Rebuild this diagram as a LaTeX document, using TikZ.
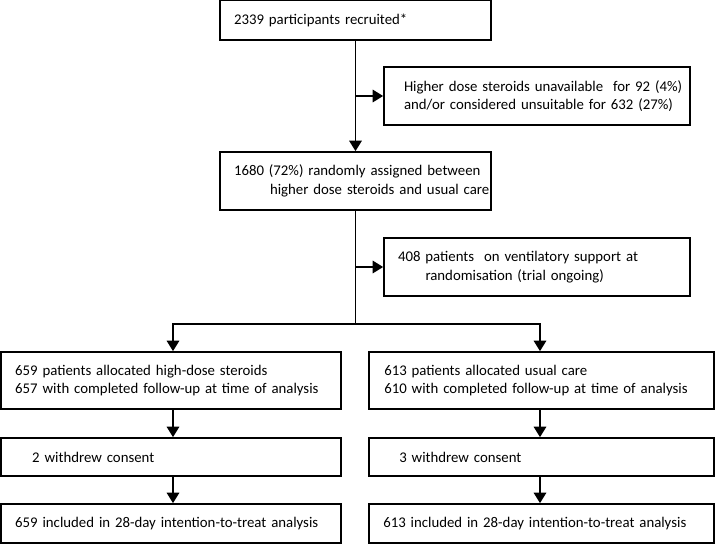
\documentclass[tikz,border=0pt]{standalone}
\usepackage{fontspec}
\setmainfont{Carlito}
\usetikzlibrary{arrows.meta}
\begin{document}
\begin{tikzpicture}[x=1pt,y=1pt,
  box/.style={draw, line width=1.7pt, align=left, inner ysep=0pt,
    font=\fontsize{14.8}{18.7}\selectfont},
  ln/.style={line width=1.7pt},
  arr/.style={line width=1.7pt, -{Triangle[length=10.5pt,width=12.5pt]}}]
\useasboundingbox (0,0) rectangle (715,-544);
% top column
\node[box, minimum width=271pt, minimum height=40pt, text width=243pt, inner xsep=14pt]
  (b1) at (355.5,-20) {\mbox{2339 participants recruited*}};
\node[box, minimum width=306pt, minimum height=58pt, text width=266pt, inner xsep=20pt]
  (b2) at (537,-96) {\mbox{Higher dose steroids unavailable\ \ for 92 (4\%)}\\\mbox{and/or considered unsuitable for 632 (27\%)}};
\node[box, minimum width=271pt, minimum height=58pt, text width=243pt, inner xsep=14pt]
  (b3) at (355.5,-181) {\mbox{1680 (72\%) randomly assigned between}\\\mbox{\hspace*{36pt}higher dose steroids and usual care}};
\node[box, minimum width=306pt, minimum height=58pt, text width=278pt, inner xsep=14pt]
  (b4) at (537,-267) {\mbox{408 patients\ \ on ventilatory support at}\\\mbox{\hspace*{27.5pt}randomisation (trial ongoing)}};
% left column
\node[box, minimum width=340pt, minimum height=57pt, text width=311.4pt, inner xsep=14.3pt]
  (b5l) at (170.85,-380.5) {\mbox{659 patients allocated high-dose steroids}\\\mbox{657 with completed follow-up at time of analysis}};
\node[box, minimum width=340pt, minimum height=38pt, text width=277.4pt, inner xsep=31.3pt]
  (b6l) at (170.85,-457) {\mbox{2 withdrew consent}};
\node[box, minimum width=340pt, minimum height=39pt, text width=311.4pt, inner xsep=14.3pt]
  (b7l) at (170.85,-523.5) {\mbox{659 included in 28-day intention-to-treat analysis}};
% right column
\node[box, minimum width=344.5pt, minimum height=57pt, text width=314.5pt, inner xsep=15pt]
  (b5r) at (541.5,-380.5) {\mbox{613 patients allocated usual care}\\\mbox{610 with completed follow-up at time of analysis}};
\node[box, minimum width=344.5pt, minimum height=38pt, text width=284.5pt, inner xsep=30pt]
  (b6r) at (541.5,-457) {\mbox{3 withdrew consent}};
\node[box, minimum width=344.5pt, minimum height=39pt, text width=316.5pt, inner xsep=14pt]
  (b7r) at (541.5,-523.5) {\mbox{613 included in 28-day intention-to-treat analysis}};
% connectors
\coordinate (split) at (356,-324);
\coordinate (jl) at (173,-324);
\coordinate (jr) at (540,-324);
\draw[arr] (b1.south) -- (b3.north);
\draw[arr] (b1.south |- b2.west) -- (b2.west);
\draw[ln] (b3.south) -- (b3.south |- split);
\draw[arr] (b3.south |- b4.west) -- (b4.west);
\draw[arr] (b3.south |- split) -- (jl) -- (jl |- b5l.north);
\draw[arr] (b3.south |- split) -- (jr) -- (jr |- b5r.north);
\draw[arr] (jl |- b5l.south) -- (jl |- b6l.north);
\draw[arr] (jl |- b6l.south) -- (jl |- b7l.north);
\draw[arr] (jr |- b5r.south) -- (jr |- b6r.north);
\draw[arr] (jr |- b6r.south) -- (jr |- b7r.north);
\end{tikzpicture}
\end{document}
